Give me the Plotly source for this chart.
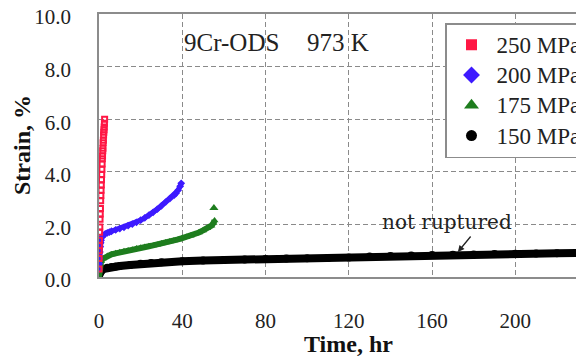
import plotly.graph_objects as go

# ---- data ----
t_250 = [0, 0.05, 0.1, 0.15, 0.2, 0.3, 0.4, 0.5, 0.6, 0.7, 0.8, 0.9, 1.0, 1.1, 1.2,
         1.3, 1.4, 1.5, 1.6, 1.7, 1.8, 1.9, 2.0, 2.1, 2.2, 2.3, 2.4, 2.5, 2.6, 2.7]
s_250 = [0.3, 0.7, 1.0, 1.2, 1.4, 1.7, 1.9, 2.2, 2.4, 2.6, 2.9, 3.1, 3.3, 3.5, 3.7,
         3.9, 4.1, 4.3, 4.5, 4.6, 4.8, 4.9, 5.1, 5.2, 5.4, 5.5, 5.6, 5.7, 5.85, 6.0]

t_200 = [0, 0.1, 0.2, 0.4, 0.6, 0.8, 1.0, 1.5, 2, 3, 4, 5, 6, 8, 10, 12, 14, 16, 18,
         20, 22, 24, 26, 28, 30, 32, 34, 36, 37, 38, 39, 39.5]
s_200 = [0.3, 0.5, 0.7, 0.95, 1.15, 1.3, 1.4, 1.52, 1.58, 1.64, 1.68, 1.71, 1.74, 1.79,
         1.84, 1.89, 1.95, 2.01, 2.08, 2.16, 2.25, 2.35, 2.46, 2.58, 2.71, 2.85, 2.98,
         3.1, 3.18, 3.3, 3.45, 3.56]

t_175 = [0, 0.2, 0.5, 1, 2, 4, 6, 8, 10, 12, 14, 16, 18, 20, 22, 24, 26, 28, 30, 32,
         34, 36, 38, 40, 42, 44, 46, 48, 50, 52, 54, 55, 55.5, 55.2]
s_175 = [0.0, 0.35, 0.5, 0.6, 0.7, 0.8, 0.86, 0.9, 0.94, 0.98, 1.01, 1.04, 1.08, 1.11,
         1.14, 1.17, 1.2, 1.23, 1.27, 1.31, 1.35, 1.39, 1.43, 1.48, 1.52, 1.57, 1.63,
         1.69, 1.77, 1.85, 1.95, 2.05, 2.15, 2.62]

t_150 = [0, 0.2, 0.5, 1, 2, 4, 6, 8, 10, 15, 20, 25, 30, 40, 50, 60, 70, 80, 90, 100,
         110, 120, 130, 140, 150, 160, 170, 180, 190, 200, 210, 220, 231]
s_150 = [0.05, 0.12, 0.18, 0.22, 0.3, 0.35, 0.38, 0.4, 0.42, 0.46, 0.5, 0.53, 0.56,
         0.6, 0.63, 0.65, 0.67, 0.68, 0.7, 0.71, 0.72, 0.74, 0.78, 0.8, 0.82, 0.84,
         0.85, 0.86, 0.87, 0.88, 0.89, 0.9, 0.91]

series_names = ["250 MPa", "200 MPa", "175 MPa", "150 MPa"]
x_ticks = [0, 40, 80, 120, 160, 200, 240]
y_ticks = [0, 2, 4, 6, 8, 10]

FONT = "Times New Roman, Liberation Serif, serif"
RED, BLUE, GREEN, BLACK = "#ff1744", "#3d1aff", "#1e7d1e", "#000000"

fig = go.Figure()

fig.add_trace(go.Scatter(x=t_150, y=s_150, mode="lines+markers", showlegend=False,
                         line=dict(color=BLACK, width=8),
                         marker=dict(symbol="circle", size=8, color=BLACK)))
fig.add_trace(go.Scatter(x=t_175[:-1], y=s_175[:-1], mode="lines+markers", showlegend=False,
                         line=dict(color=GREEN, width=6),
                         marker=dict(symbol="triangle-up", size=7, color=GREEN)))
fig.add_trace(go.Scatter(x=t_175[-1:], y=s_175[-1:], mode="markers", showlegend=False,
                         marker=dict(symbol="triangle-up", size=8, color=GREEN)))
fig.add_trace(go.Scatter(x=t_200, y=s_200, mode="lines+markers", showlegend=False,
                         line=dict(color=BLUE, width=5),
                         marker=dict(symbol="diamond", size=6, color=BLUE)))
fig.add_trace(go.Scatter(x=t_250, y=s_250, mode="markers", showlegend=False,
                         marker=dict(symbol="square-open", size=5, color=RED,
                                     line=dict(width=2, color=RED))))

# legend entries (legend font 21 sets the row pitch; shown text is 23 px)
for name, sym, col, sz in zip(series_names,
                              ["square", "diamond", "triangle-up", "circle"],
                              [RED, BLUE, GREEN, BLACK], [11, 13, 13, 11]):
    fig.add_trace(go.Scatter(x=[None], y=[None], mode="markers",
                             name='<span style="font-size:23px">' + name + "</span>",
                             marker=dict(symbol=sym, size=sz, color=col)))

# The page body has an 8 px margin, so the figure is drawn 8 px right/down.
OFF = 8
W, H = 584 - OFF, 358 - OFF
PL, PT, PB = 99, 14, 277            # plot edges in reference-window pixels
L, T, B = PL - OFF, PT - OFF, H - (PB - OFF)
PW, PH = W - L, PB - PT
x_max = 233.0
px_per_hr = PW / x_max


def px(xw):
    return (xw - PL) / PW


def py(yw):
    return (PB - yw) / PH


fig.update_layout(
    width=W, height=H,
    margin=dict(l=L, r=0, t=T, b=B, autoexpand=False),
    paper_bgcolor="white", plot_bgcolor="white",
    font=dict(family=FONT, color="#222222", size=21),
    showlegend=True,
    legend=dict(x=px(445), y=py(23), xanchor="left", yanchor="top",
                bgcolor="white", bordercolor="#8c8c8c", borderwidth=1.5,
                font=dict(family=FONT, size=21, color="#222222"),
                itemwidth=40, tracegroupgap=0),
    xaxis=dict(range=[0, x_max], tickvals=x_ticks, ticktext=[str(v) for v in x_ticks],
               showgrid=True, gridcolor="#8a8a8a", griddash="5px,3px", gridwidth=1,
               showline=True, linecolor="#8c8c8c", linewidth=1.5, mirror=True,
               zeroline=False, ticks="outside", ticklen=24, tickcolor="rgba(0,0,0,0)",
               ticklabeloverflow="allow",
               tickfont=dict(size=21, family=FONT, color="#222222")),
    yaxis=dict(range=[0, 10], tickvals=y_ticks, tickformat=".1f",
               showgrid=True, gridcolor="#8a8a8a", griddash="5px,3px", gridwidth=1,
               showline=True, linecolor="#8c8c8c", linewidth=1.5, mirror=False,
               zeroline=False, ticks="outside", ticklen=22, tickcolor="rgba(0,0,0,0)",
               ticklabeloverflow="allow", ticklabelshift=3,
               tickfont=dict(size=21, family=FONT, color="#222222")),
)

# axis titles
fig.add_annotation(xref="paper", yref="paper", x=px(348), y=py(344), text="<b>Time, hr</b>",
                   showarrow=False, xanchor="center", yanchor="middle",
                   font=dict(size=24, family=FONT, color="#111111"))
fig.add_annotation(xref="paper", yref="paper", x=px(22), y=py(145), text="<b>Strain, %</b>",
                   textangle=-90, showarrow=False, xanchor="center", yanchor="middle",
                   font=dict(size=24, family=FONT, color="#111111"))

# cut-off tick label at the right edge (240)
fig.add_annotation(xref="paper", yref="paper", x=(240 * px_per_hr) / PW, y=0,
                   yshift=-40, text="240", showarrow=False, xanchor="center",
                   yanchor="middle", font=dict(size=21, family=FONT, color="#222222"))

fig.add_annotation(xref="paper", yref="paper", x=px(182), y=py(42), text="9Cr-ODS",
                   showarrow=False, xanchor="left", yanchor="middle",
                   font=dict(size=25, family=FONT, color="#222222"))
fig.add_annotation(xref="paper", yref="paper", x=px(305), y=py(42), text="973 K",
                   showarrow=False, xanchor="left", yanchor="middle",
                   font=dict(size=25, family=FONT, color="#222222"))

fig.add_annotation(x=167.1, y=2.09, xref="x", yref="y", text="not ruptured",
                   showarrow=False, xanchor="center", yanchor="middle",
                   font=dict(size=20, family="DejaVu Serif, serif", color="#222222"))
fig.add_annotation(x=172.4, y=0.95, xref="x", yref="y", text="", showarrow=True,
                   ax=14, ay=-17, arrowhead=2, arrowsize=1, arrowwidth=1.3,
                   arrowcolor="#222222")

fig.write_html("out.html")
